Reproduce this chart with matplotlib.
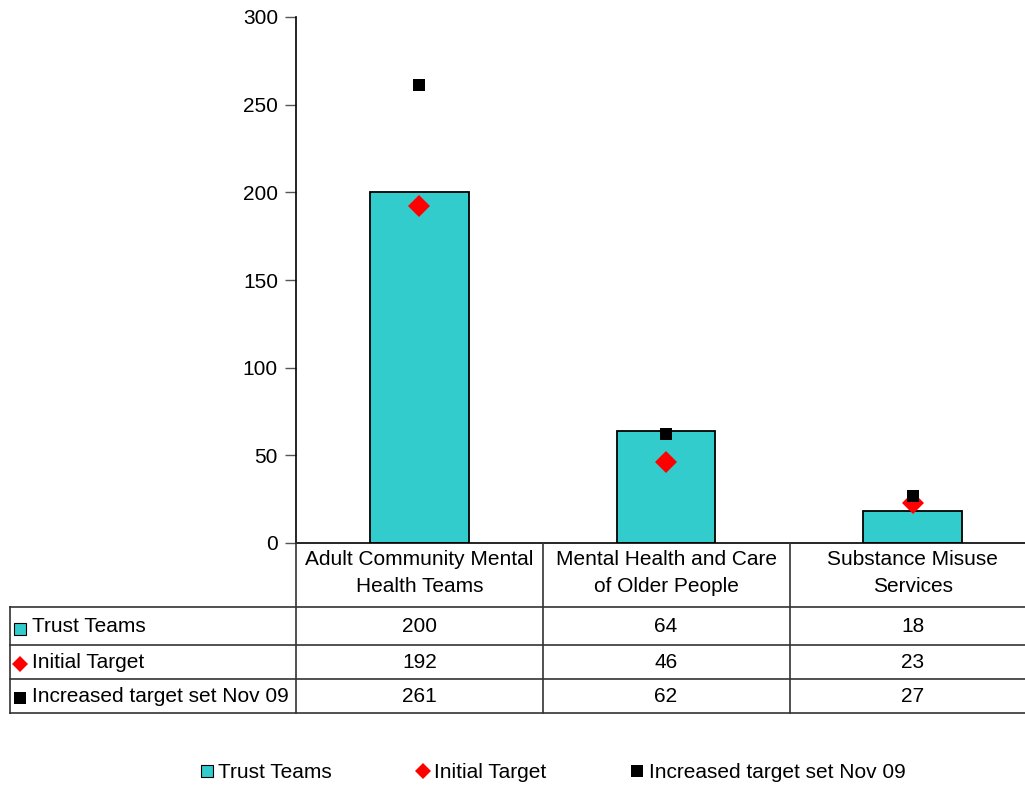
import matplotlib
matplotlib.use("Agg")
import matplotlib.pyplot as plt
from matplotlib.lines import Line2D
from matplotlib.transforms import blended_transform_factory

plt.rcParams['font.family'] = ['Liberation Sans', 'DejaVu Sans']

categories = ["Adult Community Mental\nHealth Teams",
              "Mental Health and Care\nof Older People",
              "Substance Misuse\nServices"]
trust_teams = [200, 64, 18]
initial_target = [192, 46, 23]
increased_target = [261, 62, 27]
series_names = ["Trust Teams", "Initial Target", "Increased target set Nov 09"]
y_ticks = [0, 50, 100, 150, 200, 250, 300]

W, H = 1025, 785
CYAN = "#33CCCC"
FS = 15

fig = plt.figure(figsize=(W / 100, H / 100), dpi=100)


def fx(px):
    return px / W


def fy(py):
    return 1 - py / H


ax = fig.add_axes([fx(296), fy(543), fx(1036) - fx(296), fy(17) - fy(543)])
x = [i + 0.5 for i in range(len(categories))]

ax.bar(x, trust_teams, width=0.40, color=CYAN, edgecolor="black", linewidth=1.3, zorder=2)
ax.plot(x, initial_target, linestyle="none", marker="D", markersize=11,
        color="red", markeredgewidth=0, zorder=3)
ax.plot(x, increased_target, linestyle="none", marker="s", markersize=8.5,
        color="black", markeredgewidth=0, zorder=4)

ax.set_xlim(0, 3)
ax.set_ylim(0, 300)
ax.set_yticks(y_ticks)
ax.set_xticks([])
ax.tick_params(axis="y", length=8, width=1, color="#555555", labelsize=FS, pad=5)
for s in ("top", "right"):
    ax.spines[s].set_visible(False)
ax.spines["left"].set_linewidth(1.2)
ax.spines["bottom"].set_linewidth(1.2)

# data table under the plot
bt = blended_transform_factory(ax.transData, fig.transFigure)
line_kw = dict(color="#333333", linewidth=1.2, transform=fig.transFigure, clip_on=False)

# header labels
for xi, cat in zip(x, categories):
    fig.text(0, 0, cat, transform=bt, ha="center", va="center", fontsize=FS,
             linespacing=1.5).set_position((xi, fy(573)))

# horizontal rules
for py in (607, 645, 679, 713):
    fig.add_artist(Line2D([fx(10), 1.0], [fy(py), fy(py)], **line_kw))
# vertical rules
fig.add_artist(Line2D([fx(10), fx(10)], [fy(607), fy(713)], **line_kw))
for px in (296, 543, 790):
    fig.add_artist(Line2D([fx(px), fx(px)], [fy(543), fy(713)], **line_kw))

row_y = [627, 662, 696]
rows = [trust_teams, initial_target, increased_target]
row_markers = [("s", CYAN, "black", 8, 0.8), ("D", "red", "red", 8.5, 0),
               ("s", "black", "black", 8, 0)]
for ry, name, vals, (m, fc, ec, ms, mew) in zip(row_y, series_names, rows, row_markers):
    fig.add_artist(Line2D([fx(20)], [fy(ry + 2)], marker=m, markersize=ms, markerfacecolor=fc,
                          markeredgecolor=ec, markeredgewidth=mew, linestyle="none",
                          transform=fig.transFigure))
    fig.text(fx(32), fy(ry), name, ha="left", va="center", fontsize=FS)
    for xi, v in zip(x, vals):
        t = fig.text(0, 0, str(v), transform=bt, ha="center", va="center", fontsize=FS)
        t.set_position((xi, fy(ry)))

# legend
handles = [
    Line2D([], [], marker="s", markersize=8, markerfacecolor=CYAN, markeredgecolor="black",
           markeredgewidth=0.8, linestyle="none"),
    Line2D([], [], marker="D", markersize=8.5, color="red", markeredgewidth=0, linestyle="none"),
    Line2D([], [], marker="s", markersize=8, color="black", markeredgewidth=0, linestyle="none"),
]
fig.legend(handles, series_names, loc="center", bbox_to_anchor=(fx(553), fy(773)), ncol=3,
           frameon=False, fontsize=FS, handlelength=0.6, handletextpad=0.25,
           columnspacing=4.05)

fig.savefig("out.png", dpi=100)
